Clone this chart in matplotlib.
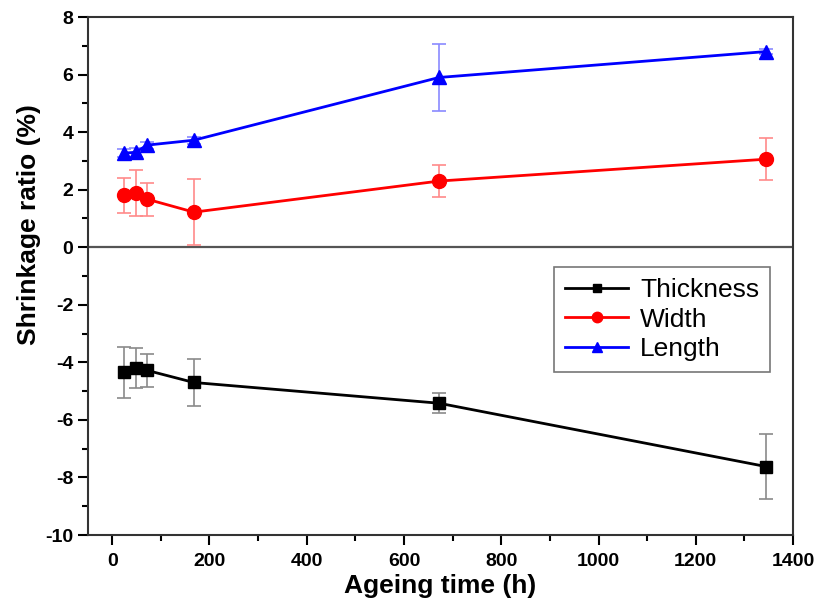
import matplotlib
matplotlib.use('Agg')
import matplotlib.pyplot as plt
from matplotlib.ticker import MultipleLocator
from matplotlib.lines import Line2D

hours = [24, 48, 72, 168, 672, 1344]

thickness = [-4.35, -4.2, -4.28, -4.7, -5.42, -7.62]
thickness_err = [0.9, 0.7, 0.58, 0.83, 0.35, 1.12]

width = [1.8, 1.9, 1.67, 1.22, 2.3, 3.06]
width_err = [0.6, 0.8, 0.57, 1.15, 0.57, 0.72]

length = [3.27, 3.3, 3.55, 3.72, 5.9, 6.8]
length_err = [0.15, 0.15, 0.12, 0.12, 1.18, 0.1]


def main():
    plt.rcParams['font.family'] = ['Liberation Sans', 'DejaVu Sans']
    plt.rcParams['axes.unicode_minus'] = False
    fig = plt.figure(figsize=(8.21, 6.09), dpi=100)
    ax = fig.add_axes([0.107, 0.1215, 0.859, 0.8505])

    ax.axhline(0, color='#555555', lw=1.6, zorder=1)

    series = [
        ('Thickness', thickness, thickness_err, 'black', '#8a8a8a', 's', 8),
        ('Width', width, width_err, 'red', '#ff8a8a', 'o', 10),
        ('Length', length, length_err, 'blue', '#8a8aff', '^', 10),
    ]
    handles = []
    for name, y, err, col, ecol, mk, ms in series:
        ax.errorbar(hours, y, yerr=err, color=col, ecolor=ecol, marker=mk,
                    ms=ms, lw=2, elinewidth=1.2, capsize=5, capthick=1.2,
                    zorder=3)
        handles.append(Line2D([], [], color=col, marker=mk, ms=ms * 0.75,
                              lw=2, label=name))

    ax.set_xlim(-50, 1400)
    ax.set_ylim(-10, 8)
    ax.xaxis.set_major_locator(MultipleLocator(200))
    ax.xaxis.set_minor_locator(MultipleLocator(100))
    ax.yaxis.set_major_locator(MultipleLocator(2))
    ax.yaxis.set_minor_locator(MultipleLocator(1))
    ax.tick_params(which='both', direction='out', width=1.5,
                   top=False, right=False)
    ax.tick_params(which='major', length=7, labelsize=14)
    ax.tick_params(which='minor', length=4)
    ax.tick_params(axis='x', pad=6)
    for lab in ax.get_xticklabels() + ax.get_yticklabels():
        lab.set_fontweight('bold')
    for sp in ax.spines.values():
        sp.set_linewidth(1.5)
        sp.set_color('#333333')

    ax.set_xlabel('Ageing time (h)', fontsize=19, fontweight='bold', labelpad=3)
    ax.set_ylabel('Shrinkage ratio (%)', fontsize=19, fontweight='bold', labelpad=4)
    ax.yaxis.set_label_coords(-0.066, 0.6)

    leg = ax.legend(handles=handles, loc='upper right',
                    bbox_to_anchor=(0.967, 0.517), borderaxespad=0,
                    fontsize=19, fancybox=False, edgecolor='#555555',
                    handlelength=2.4, handletextpad=0.45, borderpad=0.4,
                    labelspacing=0.22)
    leg.get_frame().set_linewidth(1.2)

    fig.savefig('out.png', dpi=100)


if __name__ == '__main__':
    main()
